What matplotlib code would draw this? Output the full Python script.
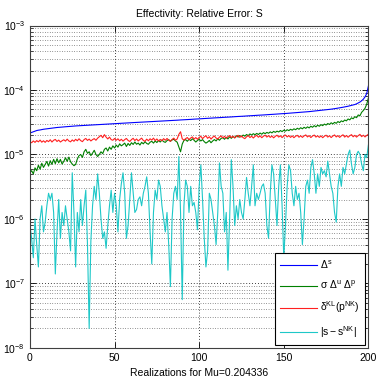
import matplotlib
matplotlib.use('Agg')
import matplotlib.pyplot as plt
import numpy as np
from matplotlib.ticker import LogLocator, FixedLocator, NullFormatter

plt.rcParams['font.family'] = ['Liberation Sans', 'DejaVu Sans']
plt.rcParams['mathtext.fontset'] = 'custom'
plt.rcParams['mathtext.rm'] = 'Liberation Sans'
plt.rcParams['mathtext.it'] = 'Liberation Sans:italic'
plt.rcParams['mathtext.default'] = 'regular'

# realization index
realizations = np.arange(201)

# Delta^s (sorted, increasing)
delta_s = [
    2.15e-5,
    2.20e-5, 2.25e-5, 2.30e-5, 2.35e-5, 2.38e-5, 2.40e-5, 2.43e-5, 2.46e-5, 2.48e-5, 2.50e-5,
    2.52e-5, 2.54e-5, 2.56e-5, 2.58e-5, 2.60e-5, 2.62e-5, 2.63e-5, 2.65e-5, 2.66e-5, 2.68e-5,
    2.69e-5, 2.70e-5, 2.72e-5, 2.73e-5, 2.74e-5, 2.76e-5, 2.77e-5, 2.78e-5, 2.80e-5, 2.81e-5,
    2.82e-5, 2.83e-5, 2.84e-5, 2.85e-5, 2.86e-5, 2.87e-5, 2.88e-5, 2.89e-5, 2.90e-5, 2.91e-5,
    2.92e-5, 2.93e-5, 2.94e-5, 2.95e-5, 2.96e-5, 2.97e-5, 2.98e-5, 2.99e-5, 3.00e-5, 3.01e-5,
    3.02e-5, 3.03e-5, 3.04e-5, 3.05e-5, 3.06e-5, 3.07e-5, 3.08e-5, 3.09e-5, 3.10e-5, 3.11e-5,
    3.12e-5, 3.13e-5, 3.14e-5, 3.15e-5, 3.16e-5, 3.17e-5, 3.18e-5, 3.19e-5, 3.20e-5, 3.21e-5,
    3.22e-5, 3.23e-5, 3.24e-5, 3.25e-5, 3.26e-5, 3.27e-5, 3.28e-5, 3.30e-5, 3.31e-5, 3.32e-5,
    3.33e-5, 3.34e-5, 3.35e-5, 3.37e-5, 3.38e-5, 3.39e-5, 3.40e-5, 3.42e-5, 3.43e-5, 3.44e-5,
    3.45e-5, 3.47e-5, 3.48e-5, 3.49e-5, 3.50e-5, 3.52e-5, 3.53e-5, 3.54e-5, 3.56e-5, 3.57e-5,
    3.58e-5, 3.60e-5, 3.61e-5, 3.62e-5, 3.64e-5, 3.65e-5, 3.66e-5, 3.68e-5, 3.69e-5, 3.70e-5,
    3.72e-5, 3.73e-5, 3.74e-5, 3.76e-5, 3.77e-5, 3.78e-5, 3.80e-5, 3.81e-5, 3.82e-5, 3.84e-5,
    3.85e-5, 3.87e-5, 3.88e-5, 3.89e-5, 3.91e-5, 3.92e-5, 3.94e-5, 3.95e-5, 3.97e-5, 3.98e-5,
    4.00e-5, 4.01e-5, 4.03e-5, 4.04e-5, 4.06e-5, 4.07e-5, 4.09e-5, 4.10e-5, 4.12e-5, 4.13e-5,
    4.15e-5, 4.17e-5, 4.18e-5, 4.20e-5, 4.22e-5, 4.23e-5, 4.25e-5, 4.27e-5, 4.29e-5, 4.30e-5,
    4.32e-5, 4.34e-5, 4.36e-5, 4.38e-5, 4.40e-5, 4.42e-5, 4.44e-5, 4.46e-5, 4.48e-5, 4.50e-5,
    4.52e-5, 4.55e-5, 4.57e-5, 4.60e-5, 4.62e-5, 4.65e-5, 4.68e-5, 4.70e-5, 4.73e-5, 4.76e-5,
    4.79e-5, 4.82e-5, 4.85e-5, 4.89e-5, 4.92e-5, 4.96e-5, 5.00e-5, 5.04e-5, 5.08e-5, 5.13e-5,
    5.18e-5, 5.23e-5, 5.28e-5, 5.34e-5, 5.40e-5, 5.46e-5, 5.53e-5, 5.60e-5, 5.68e-5, 5.76e-5,
    5.85e-5, 5.95e-5, 6.10e-5, 6.30e-5, 6.50e-5, 6.80e-5, 7.20e-5, 7.80e-5, 8.80e-5, 1.15e-4,
]

# sigma Delta^u Delta^p
sigma_du_dp = [
    5.2e-6, 5.6e-6, 5.0e-6, 6.2e-6, 5.6e-6, 6.8e-6, 5.9e-6, 7.3e-6, 6.3e-6, 7.0e-6,
    7.8e-6, 6.6e-6, 8.0e-6, 7.0e-6, 8.4e-6, 7.2e-6, 8.6e-6, 7.4e-6, 8.4e-6, 7.1e-6,
    7.8e-6, 8.9e-6, 7.8e-6, 9.1e-6, 7.7e-6, 7.1e-6, 6.7e-6, 7.0e-6, 8.5e-6, 9.6e-6,
    1.00e-5, 9.0e-6, 1.10e-5, 1.20e-5, 1.04e-5, 1.10e-5, 9.6e-6, 1.05e-5, 1.16e-5, 1.00e-5,
    9.3e-6, 1.00e-5, 1.10e-5, 1.03e-5, 1.20e-5, 1.26e-5, 1.13e-5, 1.30e-5, 1.20e-5, 1.36e-5,
    1.26e-5, 1.40e-5, 1.30e-5, 1.46e-5, 1.36e-5, 1.42e-5, 1.50e-5, 1.33e-5, 1.48e-5, 1.38e-5,
    1.52e-5, 1.43e-5, 1.56e-5, 1.44e-5, 1.50e-5, 1.40e-5, 1.54e-5, 1.46e-5, 1.58e-5, 1.48e-5,
    1.44e-5, 1.55e-5, 1.60e-5, 1.50e-5, 1.62e-5, 1.53e-5, 1.65e-5, 1.56e-5, 1.68e-5, 1.58e-5,
    1.54e-5, 1.64e-5, 1.70e-5, 1.60e-5, 1.68e-5, 1.72e-5, 1.62e-5, 1.55e-5, 1.30e-5, 1.10e-5,
    1.45e-5, 1.65e-5, 1.70e-5, 1.60e-5, 1.72e-5, 1.64e-5, 1.75e-5, 1.66e-5, 1.56e-5, 1.65e-5,
    1.72e-5, 1.62e-5, 1.70e-5, 1.58e-5, 1.50e-5, 1.56e-5, 1.65e-5, 1.52e-5, 1.62e-5, 1.70e-5,
    1.62e-5, 1.75e-5, 1.66e-5, 1.78e-5, 1.82e-5, 1.72e-5, 1.85e-5, 1.74e-5, 1.88e-5, 1.78e-5,
    1.90e-5, 1.82e-5, 1.95e-5, 1.86e-5, 1.96e-5, 1.88e-5, 2.00e-5, 1.92e-5, 2.04e-5, 1.96e-5,
    2.08e-5, 2.00e-5, 2.10e-5, 2.02e-5, 2.12e-5, 2.04e-5, 2.15e-5, 2.06e-5, 2.18e-5, 2.10e-5,
    2.20e-5, 2.13e-5, 2.24e-5, 2.16e-5, 2.28e-5, 2.20e-5, 2.30e-5, 2.23e-5, 2.35e-5, 2.26e-5,
    2.38e-5, 2.30e-5, 2.42e-5, 2.34e-5, 2.46e-5, 2.38e-5, 2.50e-5, 2.42e-5, 2.55e-5, 2.46e-5,
    2.60e-5, 2.50e-5, 2.64e-5, 2.54e-5, 2.68e-5, 2.58e-5, 2.74e-5, 2.64e-5, 2.80e-5, 2.68e-5,
    2.84e-5, 2.74e-5, 2.90e-5, 2.80e-5, 2.96e-5, 2.86e-5, 3.02e-5, 2.92e-5, 3.10e-5, 2.98e-5,
    3.15e-5, 3.04e-5, 3.24e-5, 3.12e-5, 3.32e-5, 3.22e-5, 3.42e-5, 3.32e-5, 3.55e-5, 3.44e-5,
    3.70e-5, 3.58e-5, 3.85e-5, 3.72e-5, 4.10e-5, 3.98e-5, 4.50e-5, 4.80e-5, 5.20e-5, 6.00e-5,
    7.50e-5,
]

# delta^KL(p^NK)
delta_kl = [
    1.58e-5, 1.52e-5, 1.62e-5, 1.54e-5, 1.64e-5, 1.57e-5, 1.67e-5, 1.55e-5, 1.63e-5, 1.54e-5,
    1.65e-5, 1.58e-5, 1.69e-5, 1.56e-5, 1.66e-5, 1.71e-5, 1.59e-5, 1.67e-5, 1.56e-5, 1.63e-5,
    1.69e-5, 1.61e-5, 1.73e-5, 1.62e-5, 1.57e-5, 1.68e-5, 1.60e-5, 1.72e-5, 1.63e-5, 1.75e-5,
    1.64e-5, 1.58e-5, 1.70e-5, 1.77e-5, 1.65e-5, 1.73e-5, 1.62e-5, 1.70e-5, 1.76e-5, 1.66e-5,
    1.79e-5, 1.88e-5, 1.98e-5, 1.82e-5, 2.03e-5, 1.86e-5, 1.74e-5, 1.86e-5, 1.70e-5, 1.66e-5,
    1.77e-5, 1.66e-5, 1.75e-5, 1.63e-5, 1.72e-5, 1.61e-5, 1.70e-5, 1.77e-5, 1.65e-5, 1.59e-5,
    1.70e-5, 1.78e-5, 1.64e-5, 1.74e-5, 1.62e-5, 1.71e-5, 1.79e-5, 1.65e-5, 1.60e-5, 1.73e-5,
    1.63e-5, 1.75e-5, 1.67e-5, 1.79e-5, 1.64e-5, 1.74e-5, 1.62e-5, 1.71e-5, 1.63e-5, 1.76e-5,
    1.66e-5, 1.77e-5, 1.67e-5, 1.60e-5, 1.71e-5, 1.79e-5, 1.66e-5, 1.74e-5, 2.05e-5, 2.25e-5,
    1.75e-5, 1.67e-5, 1.76e-5, 1.83e-5, 1.70e-5, 1.80e-5, 1.87e-5, 1.73e-5, 1.83e-5, 1.72e-5,
    1.84e-5, 1.91e-5, 1.76e-5, 1.87e-5, 1.95e-5, 1.78e-5, 1.88e-5, 1.73e-5, 1.85e-5, 1.93e-5,
    1.80e-5, 1.74e-5, 1.86e-5, 1.94e-5, 1.81e-5, 1.91e-5, 1.78e-5, 1.89e-5, 1.96e-5, 1.83e-5,
    1.92e-5, 1.80e-5, 1.90e-5, 1.98e-5, 1.84e-5, 1.94e-5, 1.82e-5, 1.76e-5, 1.88e-5, 1.96e-5,
    1.83e-5, 1.92e-5, 1.80e-5, 1.91e-5, 1.98e-5, 1.85e-5, 1.94e-5, 1.82e-5, 1.92e-5, 1.99e-5,
    1.86e-5, 1.96e-5, 1.84e-5, 1.93e-5, 1.81e-5, 1.91e-5, 1.99e-5, 1.86e-5, 1.95e-5, 1.83e-5,
    1.93e-5, 2.00e-5, 1.87e-5, 1.96e-5, 1.84e-5, 1.94e-5, 1.82e-5, 1.92e-5, 1.98e-5, 1.85e-5,
    1.95e-5, 1.84e-5, 1.94e-5, 2.01e-5, 1.87e-5, 1.96e-5, 1.83e-5, 1.93e-5, 2.00e-5, 1.86e-5,
    1.95e-5, 1.84e-5, 1.94e-5, 1.82e-5, 1.92e-5, 1.99e-5, 1.86e-5, 1.95e-5, 1.83e-5, 1.93e-5,
    2.01e-5, 1.87e-5, 1.96e-5, 1.84e-5, 1.94e-5, 2.02e-5, 1.86e-5, 1.97e-5, 1.85e-5, 1.95e-5,
    2.03e-5, 1.88e-5, 1.98e-5, 1.86e-5, 1.96e-5, 2.05e-5, 1.89e-5, 1.99e-5, 1.87e-5, 1.97e-5,
    2.06e-5,
]

# |s - s^NK|
abs_s_err = [
    7.9e-7, 5.0e-7, 2.5e-7, 1.0e-6, 4.0e-7, 1.8e-7, 1.0e-6, 1.6e-6, 6.3e-7, 8.9e-7,
    1.6e-6, 2.5e-6, 2.0e-6, 2.5e-6, 1.26e-6, 1.4e-7, 6.3e-7, 2.0e-6, 5.0e-7, 1.26e-6,
    7.9e-7, 1.6e-6, 1.0e-6, 6.3e-7, 3.2e-7, 5.2e-6, 1.26e-6, 1.8e-7, 1.26e-6, 6.3e-7,
    2.0e-6, 7.9e-7, 1.6e-6, 2.8e-6, 4.0e-7, 2.0e-8, 4.5e-7, 1.6e-6, 3.2e-6, 2.0e-6,
    5.0e-6, 2.5e-6, 1.0e-6, 5.0e-7, 6.3e-7, 3.5e-7, 7.9e-7, 1.6e-6, 2.8e-6, 1.26e-6,
    2.5e-6, 1.6e-6, 6.3e-7, 2.0e-6, 3.5e-6, 5.2e-6, 2.5e-6, 5.0e-7, 7.9e-7, 2.0e-6,
    5.2e-6, 2.5e-6, 1.26e-6, 1.4e-6, 2.0e-6, 2.2e-6, 1.6e-6, 2.5e-6, 3.2e-6, 4.5e-6,
    2.5e-6, 6.3e-7, 2.0e-7, 1.26e-6, 2.8e-6, 2.0e-6, 4.0e-6, 3.2e-6, 1.6e-6, 1.0e-6,
    6.3e-7, 1.26e-6, 4.0e-7, 8.9e-8, 1.0e-6, 2.5e-6, 3.2e-6, 2.0e-6, 9.3e-6, 1.26e-6,
    5.6e-8, 1.6e-6, 4.0e-6, 3.2e-6, 1.26e-6, 3.2e-6, 1.6e-6, 1.8e-6, 1.26e-6, 6.8e-7,
    3.2e-6, 6.9e-6, 2.0e-6, 5.0e-7, 1.8e-7, 3.2e-7, 2.5e-6, 2.0e-6, 1.26e-6, 7.9e-7,
    4.0e-7, 1.26e-6, 7.4e-6, 3.2e-6, 2.5e-6, 6.3e-7, 1.26e-6, 1.6e-7, 1.0e-6, 8.3e-6,
    3.2e-6, 7.9e-7, 1.6e-6, 1.0e-6, 2.0e-6, 1.26e-6, 1.0e-6, 2.0e-6, 4.4e-6, 2.5e-6,
    1.6e-6, 3.2e-6, 6.9e-6, 1.6e-6, 2.5e-6, 2.0e-6, 2.5e-6, 3.2e-6, 3.5e-6, 2.5e-6,
    7.9e-7, 5.0e-7, 2.5e-6, 6.9e-6, 5.0e-6, 2.0e-6, 7.9e-7, 3.2e-6, 6.9e-6, 1.6e-6,
    2.5e-7, 7.9e-7, 3.2e-6, 6.9e-6, 5.6e-6, 2.5e-6, 1.6e-6, 3.2e-6, 2.0e-6, 2.5e-6,
    1.26e-6, 4.0e-7, 1.0e-6, 3.2e-6, 4.0e-6, 2.5e-6, 6.3e-6, 8.3e-6, 5.0e-6, 2.5e-6,
    5.0e-6, 3.2e-6, 6.3e-6, 5.0e-6, 5.6e-6, 4.5e-6, 7.9e-6, 5.0e-6, 3.2e-6, 2.5e-6,
    1.26e-6, 8.9e-7, 3.2e-6, 5.0e-6, 3.2e-6, 6.3e-6, 5.0e-6, 7.1e-6, 1.0e-5, 1.17e-5,
    7.1e-6, 5.0e-6, 6.3e-6, 1.0e-5, 1.12e-5, 1.0e-5, 7.1e-6, 5.6e-6, 1.0e-5, 8.9e-6,
    1.4e-5,
]

labels = [r'$\Delta^s$', r'$\sigma\ \Delta^u\ \Delta^p$',
          r'$\delta^{KL}(p^{NK})$', r'$|s - s^{NK}|$']
colors = ['#0000ff', '#008000', '#ff2020', '#1ec8c8']

fig = plt.figure(figsize=(3.79, 3.81), dpi=100)
ax = fig.add_axes([0.079, 0.087, 0.893, 0.846])

for series, lab, col in zip([delta_s, sigma_du_dp, delta_kl, abs_s_err], labels, colors):
    ax.plot(realizations, series, color=col, lw=0.8, label=lab)

ax.set_yscale('log')
ax.set_xlim(0, 200)
ax.set_ylim(1e-8, 1e-3)
ax.xaxis.set_major_locator(FixedLocator([0, 50, 100, 150, 200]))
ax.yaxis.set_major_locator(LogLocator(base=10, numticks=10))
ax.yaxis.set_minor_locator(LogLocator(base=10, subs=np.arange(2, 10), numticks=10))
ax.yaxis.set_minor_formatter(NullFormatter())

dots = (0, (1, 2.5))
ax.grid(True, which='major', axis='both', linestyle=dots, color='black', lw=0.6)
ax.grid(True, which='minor', axis='y', linestyle=dots, color='#303030', lw=0.5)

ax.tick_params(which='both', direction='in', right=True, top=True, labelsize=7.5, colors='black')
ax.tick_params(which='major', length=4, width=0.6)
ax.tick_params(which='minor', length=2, width=0.5)
ax.tick_params(axis='x', pad=4)
for sp in ax.spines.values():
    sp.set_linewidth(0.8)
    sp.set_color('#404040')

ax.set_title('Effectivity: Relative Error: S', fontsize=7.5, pad=6)
ax.set_xlabel('Realizations for Mu=0.204336', fontsize=7.5, labelpad=3)

leg = ax.legend(loc='lower right', fontsize=7.5, handlelength=3.6, handletextpad=0.3,
                fancybox=False, framealpha=1, edgecolor='black', borderpad=0.5,
                labelspacing=0.8, borderaxespad=0.3)
leg.get_frame().set_linewidth(0.8)

fig.savefig('out.png', dpi=100)
